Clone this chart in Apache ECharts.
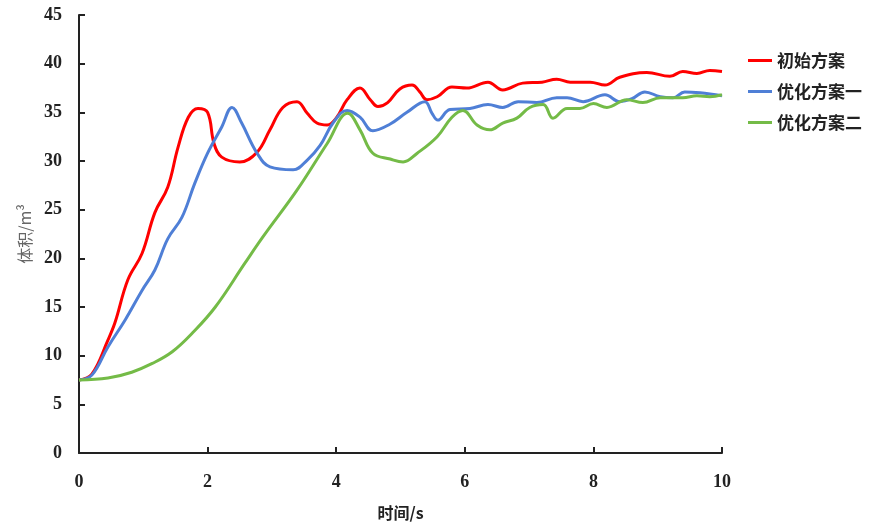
<!DOCTYPE html>
<html>
<head>
<meta charset="utf-8">
<script src="https://cdn.jsdelivr.net/npm/echarts@6/dist/echarts.min.js"></script>
<style>
  html, body { margin: 0; padding: 0; background: #fff; }
  #chart { width: 886px; height: 527px; }
</style>
</head>
<body>
<div id="chart"></div>
<script>
// 图例名称
let names = ['初始方案', '优化方案一', '优化方案二']

// 各方案 [时间, 体积]
let initial = [
  [0, 7.5], [0.2, 8.1], [0.45, 11.6], [0.56, 13.4], [0.76, 17.8], [0.98, 20.5],
  [1.18, 24.7], [1.38, 27.3], [1.54, 31.4], [1.7, 34.5], [1.85, 35.4], [2.0, 35.0],
  [2.1, 31.8], [2.22, 30.4], [2.5, 29.9], [2.77, 30.9], [2.97, 33.2], [3.17, 35.5],
  [3.39, 36.1], [3.55, 34.9], [3.7, 33.9], [3.86, 33.7], [4.01, 34.5], [4.17, 36.3],
  [4.37, 37.5], [4.53, 36.3], [4.65, 35.6], [4.8, 36.0], [4.99, 37.4], [5.18, 37.8],
  [5.3, 37.1], [5.41, 36.3], [5.57, 36.6], [5.8, 37.6], [6.03, 37.5], [6.36, 38.1],
  [6.59, 37.3], [6.9, 38.0], [7.2, 38.1], [7.43, 38.4], [7.64, 38.1], [7.95, 38.1],
  [8.18, 37.8], [8.41, 38.6], [8.83, 39.1], [9.19, 38.7], [9.39, 39.2], [9.61, 39.0],
  [9.81, 39.3], [10, 39.2]
]
let plan1 = [
  [0, 7.5], [0.2, 8.0], [0.45, 10.9], [0.72, 13.7], [0.98, 16.7], [1.18, 18.8],
  [1.38, 22.0], [1.6, 24.2], [1.8, 27.7], [2.0, 30.8], [2.22, 33.5], [2.38, 35.5],
  [2.53, 33.9], [2.77, 30.8], [2.97, 29.4], [3.33, 29.1], [3.55, 30.1], [3.75, 31.6],
  [3.95, 33.9], [4.17, 35.2], [4.37, 34.5], [4.57, 33.1], [4.84, 33.8], [5.1, 35.0],
  [5.38, 36.1], [5.49, 34.9], [5.58, 34.2], [5.77, 35.3], [6.08, 35.4], [6.36, 35.8],
  [6.59, 35.5], [6.83, 36.1], [7.12, 36.0], [7.43, 36.5], [7.59, 36.5], [7.84, 36.1],
  [8.18, 36.8], [8.41, 36.1], [8.6, 36.4], [8.8, 37.1], [9.04, 36.6], [9.24, 36.5],
  [9.42, 37.1], [9.66, 37.0], [10, 36.7]
]
let plan2 = [
  [0, 7.5], [0.45, 7.7], [0.82, 8.3], [1.14, 9.2], [1.45, 10.4], [1.76, 12.3],
  [2.12, 15.0], [2.58, 19.5], [2.86, 22.2], [3.39, 27.0], [3.86, 31.8], [4.18, 34.9],
  [4.37, 33.2], [4.57, 30.8], [4.84, 30.2], [5.04, 29.9], [5.26, 30.8], [5.57, 32.5],
  [5.8, 34.5], [5.97, 35.2], [6.19, 33.7], [6.39, 33.2], [6.59, 33.9], [6.81, 34.4],
  [7.01, 35.5], [7.22, 35.8], [7.37, 34.4], [7.59, 35.4], [7.79, 35.4], [8.0, 35.9],
  [8.21, 35.5], [8.52, 36.3], [8.77, 36.0], [9.04, 36.5], [9.39, 36.5], [9.61, 36.7],
  [9.81, 36.6], [10, 36.8]
]

let colors = ['#ff0000', '#4f7fd6', '#74bb47']

let mychart = echarts.init(document.querySelector('#chart'))

let serif = '"Liberation Serif", "Times New Roman", serif'

function makeLine(name, data, color) {
  return {
    name: name,
    type: 'line',
    data: data,
    smooth: 0.4,
    symbol: 'none',
    lineStyle: { width: 3, color: color },
    itemStyle: { color: color }
  }
}

let option = {
  animation: false,
  backgroundColor: '#fff',
  grid: {
    left: 79,
    right: 164,
    top: 15,
    bottom: 74
  },
  legend: {
    orient: 'vertical',
    left: 743,
    top: 47,
    itemGap: 14,
    itemWidth: 24,
    itemHeight: 3,
    icon: 'rect',
    data: names,
    textStyle: {
      fontFamily: '"Noto Sans CJK SC", serif',
      fontSize: 17,
      fontWeight: 'bold',
      color: '#222'
    }
  },
  xAxis: {
    type: 'value',
    min: 0,
    max: 10,
    interval: 2,
    name: '时间/s',
    nameLocation: 'middle',
    nameGap: 52,
    nameTextStyle: {
      fontFamily: '"Noto Sans CJK SC", serif',
      fontSize: 16,
      fontWeight: 'bold',
      color: '#222'
    },
    axisLine: { lineStyle: { color: '#222', width: 2 } },
    axisTick: { inside: true, length: 6, lineStyle: { color: '#222', width: 2 } },
    axisLabel: {
      margin: 20,
      fontFamily: serif,
      fontSize: 18,
      fontWeight: 'bold',
      color: '#222'
    },
    splitLine: { show: false }
  },
  yAxis: {
    type: 'value',
    min: 0,
    max: 45,
    interval: 5,
    name: '体积/m³',
    nameLocation: 'middle',
    nameGap: 42,
    nameRotate: 90,
    nameTextStyle: {
      fontFamily: '"Noto Sans CJK SC", serif',
      fontSize: 16,
      color: '#666'
    },
    axisLine: { show: true, lineStyle: { color: '#222', width: 2 } },
    axisTick: { show: true, inside: true, length: 6, lineStyle: { color: '#222', width: 2 } },
    axisLabel: {
      margin: 17,
      fontFamily: serif,
      fontSize: 18,
      fontWeight: 'bold',
      color: '#222'
    },
    splitLine: { show: false }
  },
  series: [
    makeLine(names[0], initial, colors[0]),
    makeLine(names[1], plan1, colors[1]),
    makeLine(names[2], plan2, colors[2])
  ]
}

mychart.setOption(option)
</script>
</body>
</html>
